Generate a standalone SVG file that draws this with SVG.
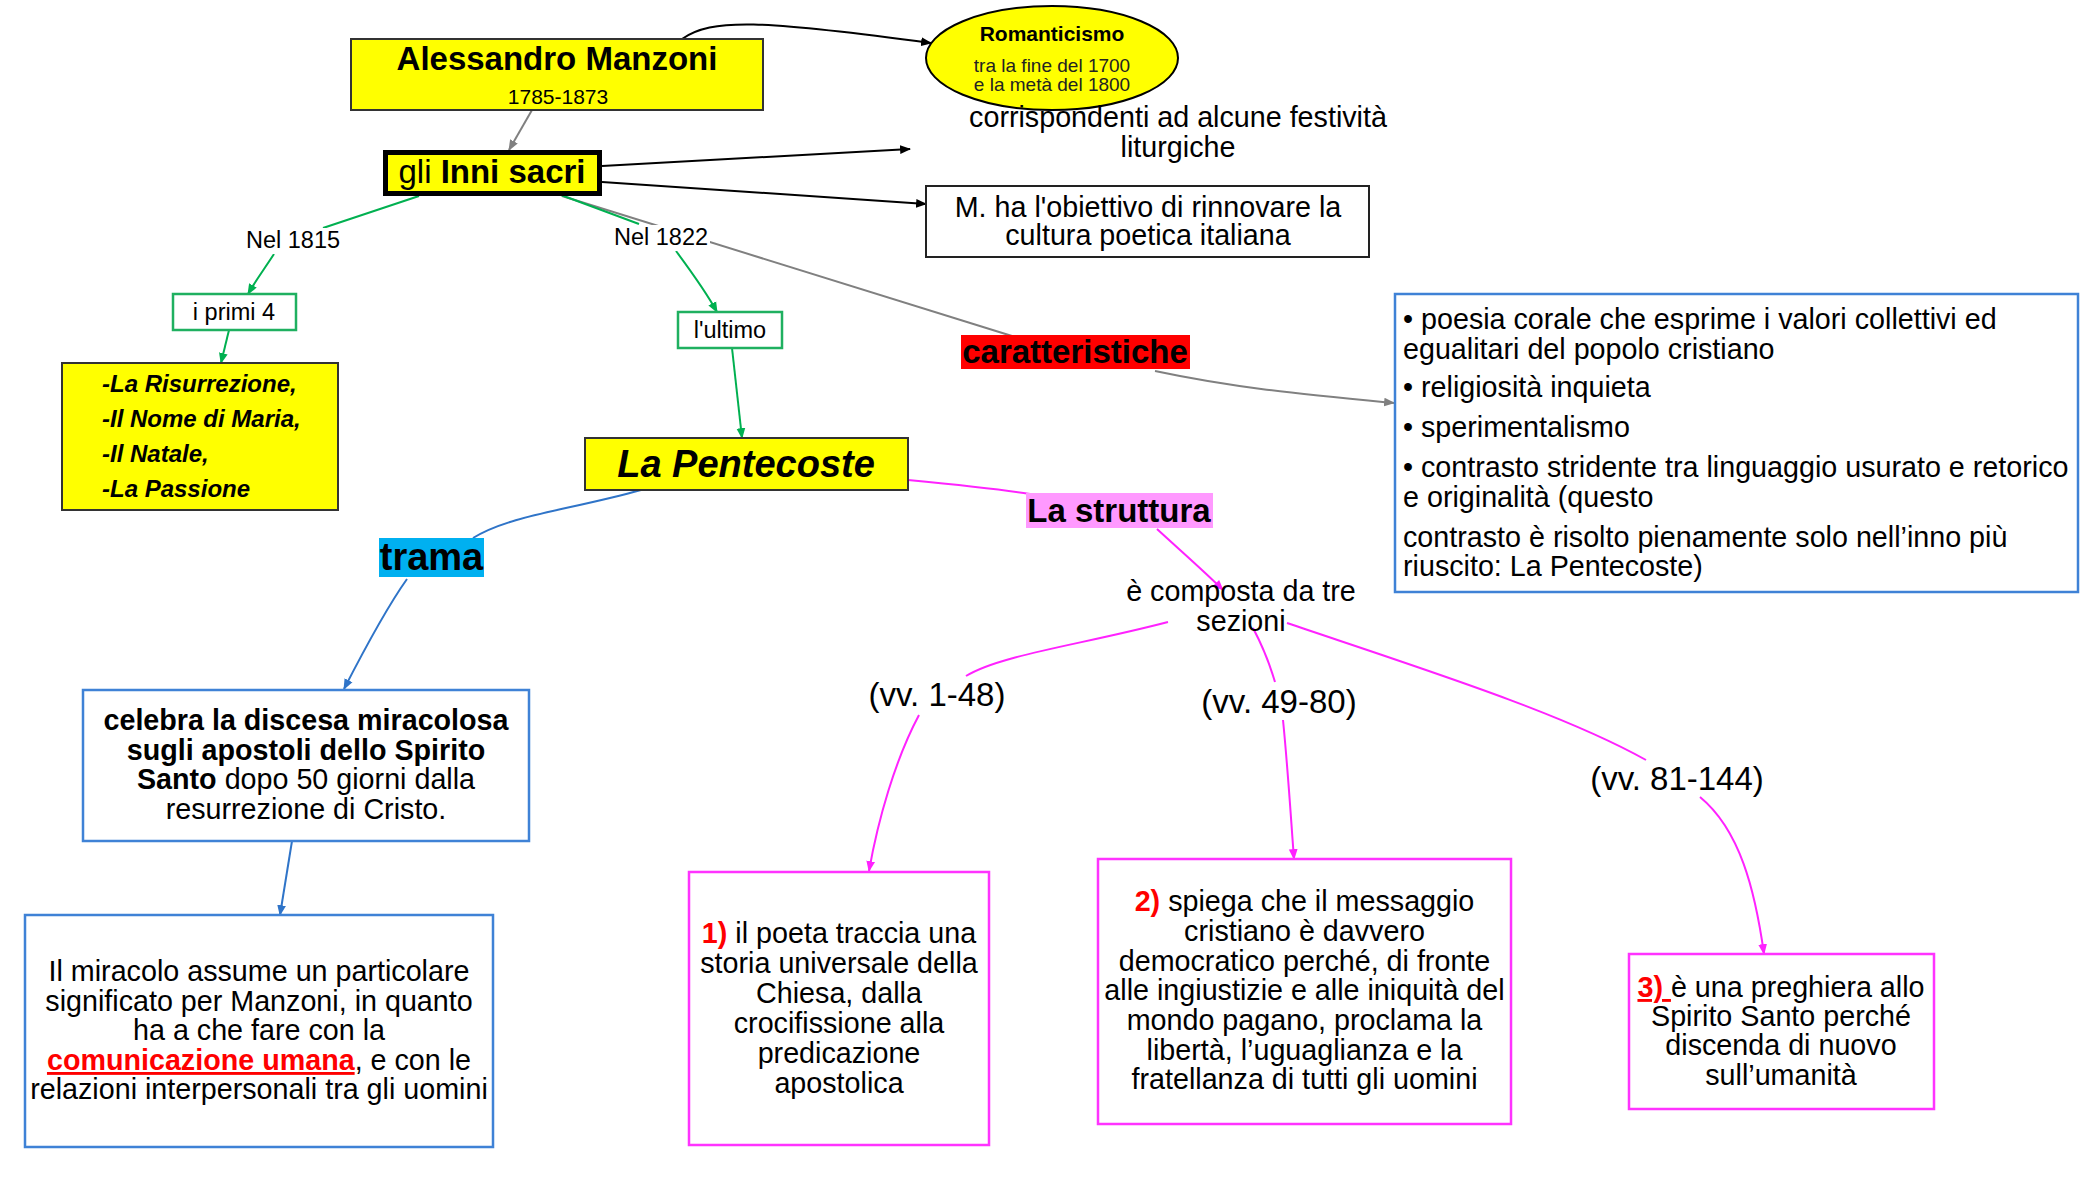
<svg xmlns="http://www.w3.org/2000/svg" width="2086" height="1190" viewBox="0 0 2086 1190">
<style>
text{font-family:"Liberation Sans",Arial,sans-serif;fill:#000}
.c{text-anchor:middle}
.b{font-weight:bold}
.t{font-size:28.7px}
.s{font-size:23.5px}
.v{font-size:33px}
.red{fill:#ff0000;font-weight:bold}
.ln{fill:none;stroke-width:2}
.k{stroke:#000}
.g{stroke:#808080}
.gr{stroke:#00b050}
.bl{stroke:#2f74c8}
.mg{stroke:#ff22ff}
.ybox{fill:#ffff00;stroke:#333;stroke-width:2}
.bbox{fill:#fff;stroke:#3f82d6;stroke-width:2.5}
.mbox{fill:#fff;stroke:#ff33ff;stroke-width:2.5}
.gbox{fill:#fff;stroke:#1fb060;stroke-width:2.5}
</style>
<defs>
<marker id="ak" viewBox="0 0 10 10" refX="9" refY="5" markerWidth="11" markerHeight="11" markerUnits="userSpaceOnUse" orient="auto"><path d="M0,1 L10,5 L0,9 Z" fill="#000"/></marker>
<marker id="ag" viewBox="0 0 10 10" refX="9" refY="5" markerWidth="11" markerHeight="11" markerUnits="userSpaceOnUse" orient="auto"><path d="M0,1 L10,5 L0,9 Z" fill="#808080"/></marker>
<marker id="agr" viewBox="0 0 10 10" refX="9" refY="5" markerWidth="11" markerHeight="11" markerUnits="userSpaceOnUse" orient="auto"><path d="M0,1 L10,5 L0,9 Z" fill="#00b050"/></marker>
<marker id="abl" viewBox="0 0 10 10" refX="9" refY="5" markerWidth="11" markerHeight="11" markerUnits="userSpaceOnUse" orient="auto"><path d="M0,1 L10,5 L0,9 Z" fill="#2f74c8"/></marker>
<marker id="amg" viewBox="0 0 10 10" refX="9" refY="5" markerWidth="11" markerHeight="11" markerUnits="userSpaceOnUse" orient="auto"><path d="M0,1 L10,5 L0,9 Z" fill="#ff22ff"/></marker>
</defs>
<rect width="2086" height="1190" fill="#fff"/>

<g id="connectors">
<path class="ln k" d="M682,39 C712,18 760,20 931,43" marker-end="url(#ak)"/>
<path class="ln g" d="M532,110 L509,150" marker-end="url(#ag)"/>
<path class="ln k" d="M602,166 L910,149" marker-end="url(#ak)"/>
<path class="ln k" d="M602,182 L926,204" marker-end="url(#ak)"/>
<path class="ln g" d="M562,196 L1012,336"/>
<path class="ln gr" d="M419,196 L323,228"/>
<path class="ln gr" d="M274,254 C265,268 256,280 248,294" marker-end="url(#agr)"/>
<path class="ln gr" d="M229,330 L221,363" marker-end="url(#agr)"/>
<path class="ln gr" d="M561,195 L639,224"/>
<path class="ln gr" d="M676,251 C690,270 705,290 717,312" marker-end="url(#agr)"/>
<path class="ln gr" d="M732,348 L742,438" marker-end="url(#agr)"/>
<path class="ln g" d="M1155,371 C1235,388 1300,394 1394,403" marker-end="url(#ag)"/>
<path class="ln mg" d="M908,480 C960,485 1000,489 1030,494"/>
<path class="ln bl" d="M641,490 C570,510 510,515 473,538"/>
<path class="ln bl" d="M407,579 C385,610 364,650 344,689" marker-end="url(#abl)"/>
<path class="ln bl" d="M292,841 L280,915" marker-end="url(#abl)"/>
<path class="ln mg" d="M1157,529 C1182,552 1205,572 1223,590" marker-end="url(#amg)"/>
<path class="ln mg" d="M1168,622 C1080,645 1000,655 966,676"/>
<path class="ln mg" d="M919,715 C895,760 878,820 869,871" marker-end="url(#amg)"/>
<path class="ln mg" d="M1253,628 C1262,645 1270,665 1275,682"/>
<path class="ln mg" d="M1283,720 C1288,770 1291,820 1294,859" marker-end="url(#amg)"/>
<path class="ln mg" d="M1287,623 C1420,668 1560,712 1646,760"/>
<path class="ln mg" d="M1700,797 C1740,830 1755,890 1764,954" marker-end="url(#amg)"/>
</g>

<g id="manzoni">
<rect class="ybox" x="351" y="39" width="412" height="71"/>
<text class="c b" x="557" y="70" font-size="33">Alessandro Manzoni</text>
<text class="c" x="558" y="104" font-size="21">1785-1873</text>
</g>

<g id="romanticismo">
<ellipse cx="1052" cy="58" rx="126" ry="52" fill="#ffff00" stroke="#000" stroke-width="2"/>
<text class="c b" x="1052" y="41" font-size="21">Romanticismo</text>
<text class="c" x="1052" y="72" font-size="19" style="fill:#222">tra la fine del 1700</text>
<text class="c" x="1052" y="91" font-size="19" style="fill:#222">e la metà del 1800</text>
</g>

<g id="inni">
<rect x="385.5" y="152.5" width="214" height="41" fill="#ffff00" stroke="#000" stroke-width="5"/>
<text class="c" x="492" y="183" font-size="33">gli <tspan class="b">Inni sacri</tspan></text>
</g>

<g id="corrispondenti">
<text class="c t" x="1178" y="127">corrispondenti ad alcune festività</text>
<text class="c t" x="1178" y="157">liturgiche</text>
</g>

<g id="obiettivo">
<rect x="926" y="186" width="443" height="71" fill="#fff" stroke="#222" stroke-width="2"/>
<text class="c t" x="1148" y="217">M. ha l'obiettivo di rinnovare la</text>
<text class="c t" x="1148" y="245">cultura poetica italiana</text>
</g>

<g id="nel1815">
<rect x="244" y="228" width="99" height="26" fill="#fff"/>
<text class="c s" x="293" y="248">Nel 1815</text>
</g>

<g id="nel1822">
<rect x="612" y="225" width="98" height="26" fill="#fff"/>
<text class="c s" x="661" y="245">Nel 1822</text>
</g>

<g id="primi4">
<rect class="gbox" x="173" y="294" width="123" height="36"/>
<text class="c s" x="234" y="320">i primi 4</text>
</g>

<g id="ultimo">
<rect class="gbox" x="678" y="312" width="104" height="36"/>
<text class="c s" x="730" y="338">l'ultimo</text>
</g>

<g id="elenco">
<rect class="ybox" x="62" y="363" width="276" height="147"/>
<g class="b" font-size="24" font-style="italic">
<text x="102" y="392">-La Risurrezione,</text>
<text x="102" y="427">-Il Nome di Maria,</text>
<text x="102" y="462">-Il Natale,</text>
<text x="102" y="497">-La Passione</text>
</g>
</g>

<g id="caratteristiche">
<rect x="961" y="335" width="229" height="34" fill="#ff0000"/>
<text class="c b" x="1075" y="363" font-size="33">caratteristiche</text>
</g>

<g id="elenco-caratteristiche">
<rect class="bbox" x="1395" y="294" width="683" height="298"/>
<text class="t" x="1403" y="329">• poesia corale che esprime i valori collettivi ed</text>
<text class="t" x="1403" y="359">egualitari del popolo cristiano</text>
<text class="t" x="1403" y="397">• religiosità inquieta</text>
<text class="t" x="1403" y="437">• sperimentalismo</text>
<text class="t" x="1403" y="477">• contrasto stridente tra linguaggio usurato e retorico</text>
<text class="t" x="1403" y="507">e originalità (questo</text>
<text class="t" x="1403" y="547">contrasto è risolto pienamente solo nell’inno più</text>
<text class="t" x="1403" y="576">riuscito: La Pentecoste)</text>
</g>

<g id="pentecoste">
<rect class="ybox" x="585" y="438" width="323" height="52"/>
<text class="c b" x="746" y="477" font-size="38" font-style="italic">La Pentecoste</text>
</g>

<g id="struttura">
<rect x="1026" y="493" width="187" height="35" fill="#ff99ff"/>
<text class="c b" x="1119" y="522" font-size="33">La struttura</text>
</g>

<g id="trama">
<rect x="379" y="538" width="105" height="39" fill="#00b0f0"/>
<text class="c b" x="431.5" y="570" font-size="38">trama</text>
</g>

<g id="composta">
<text class="c t" x="1241" y="601">è composta da tre</text>
<text class="c t" x="1241" y="631">sezioni</text>
</g>

<g id="vv1">
<text class="c v" x="937" y="706">(vv. 1-48)</text>
</g>
<g id="vv2">
<text class="c v" x="1279" y="713">(vv. 49-80)</text>
</g>
<g id="vv3">
<text class="c v" x="1677" y="790">(vv. 81-144)</text>
</g>

<g id="celebra">
<rect class="bbox" x="83" y="690" width="446" height="151"/>
<text class="c t b" x="306" y="730">celebra la discesa miracolosa</text>
<text class="c t b" x="306" y="760">sugli apostoli dello Spirito</text>
<text class="c t" x="306" y="789"><tspan class="b">Santo</tspan> dopo 50 giorni dalla</text>
<text class="c t" x="306" y="819">resurrezione di Cristo.</text>
</g>

<g id="miracolo">
<rect class="bbox" x="25" y="915" width="468" height="232"/>
<text class="c t" x="259" y="981">Il miracolo assume un particolare</text>
<text class="c t" x="259" y="1011">significato per Manzoni, in quanto</text>
<text class="c t" x="259" y="1040">ha a che fare con la</text>
<text class="c t" x="259" y="1070"><tspan class="red" text-decoration="underline">comunicazione umana</tspan>, e con le</text>
<text class="c t" x="259" y="1099">relazioni interpersonali tra gli uomini</text>
</g>

<g id="sezione1">
<rect class="mbox" x="689" y="872" width="300" height="273"/>
<text class="c t" x="839" y="943"><tspan class="red">1)</tspan> il poeta traccia una</text>
<text class="c t" x="839" y="973">storia universale della</text>
<text class="c t" x="839" y="1003">Chiesa, dalla</text>
<text class="c t" x="839" y="1033">crocifissione alla</text>
<text class="c t" x="839" y="1063">predicazione</text>
<text class="c t" x="839" y="1093">apostolica</text>
</g>

<g id="sezione2">
<rect class="mbox" x="1098" y="859" width="413" height="265"/>
<text class="c t" x="1304.5" y="911"><tspan class="red">2)</tspan> spiega che il messaggio</text>
<text class="c t" x="1304.5" y="941">cristiano è davvero</text>
<text class="c t" x="1304.5" y="971">democratico perché, di fronte</text>
<text class="c t" x="1304.5" y="1000">alle ingiustizie e alle iniquità del</text>
<text class="c t" x="1304.5" y="1030">mondo pagano, proclama la</text>
<text class="c t" x="1304.5" y="1060">libertà, l’uguaglianza e la</text>
<text class="c t" x="1304.5" y="1089">fratellanza di tutti gli uomini</text>
</g>

<g id="sezione3">
<rect class="mbox" x="1629" y="954" width="305" height="155"/>
<text class="c t" x="1781" y="997"><tspan class="red" text-decoration="underline">3) </tspan>è una preghiera allo</text>
<text class="c t" x="1781" y="1026">Spirito Santo perché</text>
<text class="c t" x="1781" y="1055">discenda di nuovo</text>
<text class="c t" x="1781" y="1085">sull’umanità</text>
</g>
</svg>
